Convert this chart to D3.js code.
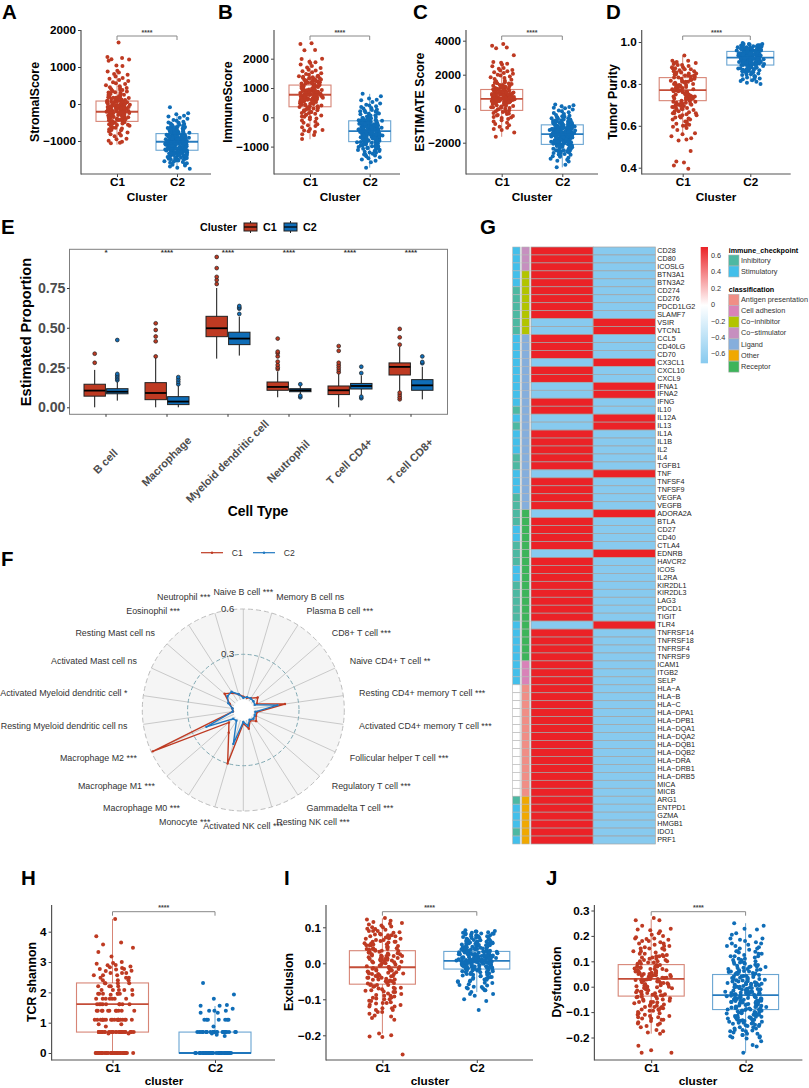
<!DOCTYPE html>
<html><head><meta charset="utf-8">
<script src="https://cdn.jsdelivr.net/npm/d3@7"></script>
<style>html,body{margin:0;padding:0;background:#fff}svg{display:block}text{font-family:"Liberation Sans",Arial,sans-serif}</style>
</head><body><svg id="c" width="809" height="1088"></svg>
<script>
const clusters=["C1","C2"];
const aC1=[1660,1270,1240,1210,1200,1170,1040,1030,900,880,850,810,790,740,700,680,650,620,590,560,540,510,480,450,430,420,400,380,350,340,320,310,300,280,270,250,240,220,200,190,170,160,140,130,110,100,90,70,60,50,40,20,10,-10,-20,-40,-50,-60,-80,-90,-100,-120,-130,-140,-160,-170,-190,-200,-210,-220,-240,-250,-270,-280,-300,-310,-330,-340,-360,-370,-390,-400,-420,-440,-450,-470,-490,-510,-530,-550,-570,-590,-610,-640,-660,-680,-710,-740,-770,-800,-820,-850,-870,-940,-950,-990,-1020,-1050,-1060,-130,-240,-90,-300,-180,-20,-410,-520,60,-350,170,-150,-260,-70];
const aC1More=[-300,-150,-60,40,120,-240,-350,-90,10,80,-420,-200,-10,210,-310,-130,-480,-560,150,-70,-280,-30,30,-190,-380,-110,300,-250,-640,-160,-460,90,-330,-50,180,-220,-590,-120,-20,-290,260,-430,-80,-700,-170,65,-370,380,-530,-100];
const aC2=[-90,-250,-280,-320,-340,-370,-400,-430,-450,-480,-500,-510,-530,-540,-560,-570,-590,-600,-620,-630,-650,-660,-680,-690,-700,-710,-730,-740,-750,-770,-780,-790,-800,-810,-820,-830,-840,-850,-860,-870,-880,-890,-900,-910,-920,-930,-940,-950,-960,-970,-975,-980,-990,-1000,-1005,-1010,-1020,-1025,-1030,-1040,-1045,-1050,-1060,-1065,-1070,-1080,-1090,-1095,-1100,-1110,-1120,-1125,-1130,-1140,-1150,-1155,-1160,-1170,-1180,-1190,-1200,-1205,-1210,-1220,-1230,-1240,-1250,-1260,-1270,-1280,-1290,-1300,-1310,-1320,-1335,-1350,-1360,-1375,-1390,-1400,-1415,-1430,-1440,-1455,-1470,-1480,-1500,-1510,-1530,-1550,-1570,-1590,-1620,-1640,-1660,-1690,-1720,-1750,-1000,-900,-1100,-850,-1150,-950,-1050,-760,-1200,-1300,-700,-1400,-800,-1250,-650];
const aC2More=[-1012,-1180,-880,-1340,-760,-1090,-950,-1230,-1420,-830,-1060,-1150,-690,-990,-1280,-910,-1120,-1510,-1030,-870,-1210,-1370,-790,-1080,-970,-1260,-920,-1140,-1600,-720,-1040,-1190,-860,-1310,-1070,-940,-1450,-810,-1110,-1000,-1220,-890,-640,-1160,-1350,-1020,-770,-1290,-930,-1480,-1100,-840,-1240,-980,-1560,-1130,-580,-1050,-1390,-900,-1200,-750,-1010,-1320,-860,-1170,-960,-1430,-1090,-820,-1270,-1030,-680,-1150,-1530,-910,-1060,-1340,-780,-1210,-990,-1120,-1460,-870,-1000,-1250,-720,-1080,-1380,-940,-1180,-800,-1300,-1040,-620,-1140,-1490,-960,-1230,-1070];
const bC1=[2530,2500,2300,2290,2000,1990,1900,1880,1850,1800,1750,1700,1680,1620,1600,1570,1540,1500,1480,1450,1420,1400,1370,1350,1330,1300,1280,1250,1230,1200,1180,1150,1130,1100,1080,1060,1040,1010,990,970,950,930,910,890,870,850,830,810,790,770,750,730,710,690,670,650,630,610,590,570,550,520,500,480,450,430,400,380,350,320,300,270,240,210,180,150,120,90,60,30,0,-40,-70,-110,-150,-190,-240,-270,-300,-340,-400,-430,-450,-480,-500,-580,-600,-740,800,900,700,1000,600,1100,760,500,1300,950,660,1220];
const bC1More=[900,650,1050,780,420,1180,560,860,320,1260,720,980,240,620,1340,830,480,1120,700,920,150,1400,540,1010,760,380,1210,640,880,90,1290,590,1060,740,460,1150,680,940,280,1380,510,820,1030,610,180,1240,790,430,960,670,1110,340,870,570,1170,730,20,1320,640,990];
const bC2=[800,720,640,600,580,520,470,430,400,380,350,320,300,270,250,220,200,170,150,120,100,70,50,30,10,-20,-40,-60,-80,-100,-120,-140,-160,-180,-200,-220,-240,-260,-280,-300,-315,-330,-345,-360,-375,-390,-405,-420,-435,-450,-465,-480,-495,-510,-525,-540,-555,-570,-585,-600,-615,-630,-645,-660,-680,-700,-720,-740,-760,-780,-800,-820,-840,-860,-880,-900,-920,-940,-960,-985,-1010,-1030,-1060,-1090,-1120,-1150,-1180,-1210,-1240,-1270,-1300,-1330,-1360,-1400,-1440,-1480,-1530,-1720,-450,-350,-550,-250,-650,-150,-750,-500,-300,-600,-50,-850,-400,-950,-700,-200,-1050,-420,-520,-620];
const bC2More=[-480,-330,-610,-210,-720,-90,-540,-390,-810,-270,-660,-450,-130,-910,-360,-580,-230,-760,-430,-30,-1010,-510,-310,-680,-170,-870,-400,-560,-110,-990,-290,-630,-460,-780,-190,-350,-1110,-530,-70,-710,-420,-260,-840,-590,-140,-950,-370,-490,-650,-230,-1070,-300,-570,-20,-800,-440,-160,-730,-520,-340,-1150,-610,-240,-890,-470,-100,-690,-380,-1000,-550,-200,-770,-410,130,-620,-310,-930,-500,60,-670,-270,-1200,-440,-590,-180,-830,-360,-740,-120,-530,-1280,-290,-640,-410,210,-980,-220,-560,-700,-340];
const cC1=[3800,3700,3600,3550,3150,2750,2700,2650,2600,2500,2400,2350,2280,2240,2200,2150,2100,2050,2000,1950,1900,1850,1800,1750,1700,1650,1600,1550,1500,1450,1400,1350,1300,1260,1220,1180,1140,1100,1060,1020,980,950,920,890,860,830,800,770,740,710,680,650,620,590,560,530,500,470,440,410,380,350,320,280,240,200,160,120,80,40,0,-50,-100,-150,-200,-250,-310,-370,-430,-490,-550,-610,-680,-750,-820,-900,-980,-1060,-1120,-1200,-1250,-1400,-1650,600,700,500,800,400,900,300,1000,650,450,750,550];
const cC1More=[720,480,880,320,1050,610,240,950,530,1180,420,760,130,1320,670,350,1120,570,820,60,1480,460,990,690,-30,1240,540,870,260,1620,380,1080,640,-170,920,510,1390,730,170,1010,440,-280,830,590,1530,290,1150,660,-400,780,490,1270,90,960,570,-520,1060,410,840,620];
const cC2=[250,200,150,100,60,20,-50,-100,-150,-210,-260,-310,-370,-420,-470,-520,-560,-600,-640,-680,-720,-760,-800,-830,-860,-890,-920,-950,-980,-1010,-1040,-1070,-1100,-1130,-1160,-1190,-1220,-1250,-1280,-1310,-1340,-1370,-1400,-1430,-1460,-1490,-1520,-1550,-1580,-1610,-1640,-1670,-1700,-1730,-1760,-1790,-1820,-1850,-1880,-1910,-1940,-1970,-2000,-2030,-2060,-2090,-2120,-2150,-2190,-2230,-2270,-2310,-2350,-2390,-2430,-2470,-2510,-2560,-2610,-2660,-2710,-2760,-2820,-2880,-2940,-3000,-3060,-3100,-3300,-3450,-1500,-1300,-1700,-1100,-1900,-900,-1450,-1200,-1600,-1000,-2100,-1350,-1750,-800,-2300,-1550,-1150,-1800,-2500,-1250,-1650,-700,-2000,-1050,-2200,-1420];
const cC2More=[-1520,-1280,-1710,-1050,-1890,-820,-1430,-1150,-1620,-960,-2050,-1330,-1780,-730,-2240,-1480,-1090,-1840,-2450,-1210,-1570,-640,-1950,-1010,-2150,-1390,-870,-1680,-2350,-1260,-1530,-1120,-1990,-780,-2600,-1440,-1190,-1730,-930,-2090,-1360,-1590,-560,-1860,-1070,-2270,-1470,-1240,-1660,-2700,-840,-1410,-1930,-1130,-2030,-1310,-1560,-490,-1810,-990,-2390,-1510,-1170,-1720,-900,-2130,-1380,-1630,-2520,-1030,-1460,-1900,-1220,-750,-1770,-2200,-1340,-1540,-1080,-2800,-1680,-1260,-1980,-440,-1420,-1140,-1820,-2320,-960,-1580,-1290,-2060,-1500,-680,-1700,-2440,-1200,-1370,-1930,-1060];
const dC1=[.935,.91,.91,.905,.9,.895,.89,.885,.88,.875,.87,.865,.86,.855,.85,.845,.84,.835,.83,.825,.82,.815,.81,.805,.8,.795,.79,.785,.78,.775,.77,.765,.76,.755,.75,.745,.74,.735,.73,.725,.72,.715,.71,.705,.7,.695,.69,.685,.68,.675,.67,.665,.66,.655,.65,.645,.64,.635,.63,.62,.61,.605,.6,.595,.59,.58,.565,.56,.55,.54,.535,.53,.48,.43,.425,.41,.395,.77,.74,.8,.76,.72,.78,.83,.75,.7,.82,.79,.73,.87,.68,.85,.77,.71,.81,.9,.76,.66,.84,.75,.69];
const dC1More=[.76,.79,.73,.81,.69,.84,.71,.77,.87,.67,.75,.8,.72,.89,.74,.78,.65,.82,.7,.86,.755,.785,.63,.815,.725,.88,.745,.66,.795,.68,.835,.775,.62,.855,.735,.805,.715,.61,.765,.825,.695,.875,.75,.6,.79,.705,.845,.77,.64,.73];
const dC2=[.995,.99,.988,.985,.983,.98,.978,.975,.973,.97,.968,.965,.963,.96,.958,.955,.953,.95,.948,.945,.943,.94,.938,.935,.933,.93,.928,.925,.923,.92,.918,.915,.913,.91,.908,.905,.903,.9,.898,.895,.893,.89,.888,.885,.883,.88,.877,.874,.871,.868,.865,.862,.859,.856,.853,.85,.846,.842,.838,.834,.83,.826,.822,.818,.814,.81,.805,.8,.97,.96,.95,.94,.93,.92,.91,.9,.965,.955,.945,.935,.925,.915,.905,.98,.975,.96,.94,.93,.92,.95,.885,.87,.985,.99,.91,.93,.945,.955,.9,.89,.97,.86];
const dC2More=[.93,.95,.91,.97,.9,.94,.92,.96,.88,.985,.925,.945,.905,.975,.935,.895,.955,.915,.965,.875,.94,.92,.98,.91,.95,.865,.93,.96,.9,.99,.925,.885,.945,.97,.915,.855,.935,.955,.905,.975,.92,.895,.94,.845,.965,.91,.93,.985,.88,.95,.9,.925,.96,.87,.935,.915,.945,.835,.97,.905,.94,.92,.955,.89,.98,.93,.91,.825,.95,.9,.965,.925,.875,.94,.915,.96,.935,.86,.945,.905];
const hC1=[4.42,3.85,3.64,3.58,3.47,3.33,3.18,3,2.97,2.94,2.9,2.89,2.85,2.83,2.8,2.77,2.75,2.71,2.7,2.64,2.64,2.56,2.56,2.48,2.48,2.4,2.4,2.3,2.3,2.3,2.2,2.2,2.2,2.08,2.08,2.08,1.95,1.95,1.95,1.95,1.92,1.92,1.79,1.79,1.79,1.79,1.79,1.61,1.61,1.61,1.61,1.61,1.61,1.39,1.39,1.39,1.39,1.39,1.39,1.39,1.39,1.1,1.1,1.1,1.1,1.1,1.1,1.1,1.1,1.1,1.1,1.1,1.1,1.1,1.1,.95,.95,.87,.69,.69,.69,.69,.69,.69,.69,.69,.69,.69,.69,.69,.69,.69,.69,.69,.69,.69,.69,.69,.69,.69,.69,.69,.64,.64,0,0,0,0,0,0,0,0,0,0,0,0,0,0,0,0,0,0,0,0,0,0,0,0,0,0,0,0,0,0];
const hC1More=[1.1,.69,1.39,0,1.61,1.79,.69,0,1.1,1.95,2.08,.69,0,1.39,2.2,1.61,1.1,2.3,2.48,.69,1.79,2.64,0,1.39,1.1,1.95,2.4,0,2.77,1.61,.69,2.08,2.56,1.1,0];
const hC2=[2.31,1.93,1.79,1.58,1.56,1.56,1.46,1.39,1.39,1.39,1.33,1.33,1.1,1.1,1.1,1.1,1.1,1.1,1.1,.87,.69,.69,.69,.69,.69,.69,.69,.69,.69,.69,.69,.69,.69,.69,.69,.69,.69,.69,.69,.69,.69,.69,.69,.69,.64,.6,.56,0,0,0,0,0,0,0,0,0,0,0,0,0,0,0,0,0,0,0,0,0,0,0,0,0,0,0,0,0,0,0,0,0,0,0,0,0,0,0,0,0,0,0];
const iC1=[.126,.122,.118,.115,.112,.108,.105,.102,.1,.096,.093,.09,.086,.082,.078,.075,.072,.068,.065,.062,.06,.056,.053,.05,.048,.045,.042,.04,.037,.034,.032,.03,.027,.024,.022,.02,.017,.014,.012,.01,.007,.004,.002,0,-.003,-.006,-.008,-.01,-.013,-.016,-.018,-.02,-.023,-.026,-.028,-.03,-.033,-.036,-.04,-.043,-.046,-.05,-.053,-.056,-.06,-.064,-.068,-.072,-.076,-.08,-.084,-.088,-.092,-.096,-.1,-.104,-.108,-.112,-.116,-.12,-.125,-.13,-.135,-.14,-.148,-.152,-.157,-.195,-.2,-.203,-.205,-.253,.04,.01,-.02,.03,-.05,.05,-.01,.02,-.03,.07,-.07,.015,-.04,.09,-.09,.045,-.015,.06,-.06,-.11,.025,-.035,.08,-.025,.005,.035,-.045];
const iC1More=[-.02,.03,-.05,.06,-.08,.01,-.03,.05,-.1,.02,-.06,.08,-.12,.04,-.01,.09,-.07,0,-.04,.07,-.13,.025,-.09,.055,-.015,-.11,.035,-.055,.1,.015,-.075,.045,-.035,.075,-.145,.005,-.095,.065,-.025,.11,-.065,.028,-.045,.085,-.115,.012,-.085,.052,-.005,-.125,.038,-.018,.095,-.068,.022,-.105,.058,-.038,.003,-.078,.068,-.048,.018,-.135,.042,-.028,.078,-.058,.008,-.098];
const iC2=[.092,.09,.088,.086,.085,.083,.082,.08,.078,.075,.073,.07,.068,.066,.064,.062,.06,.058,.056,.054,.052,.05,.048,.046,.044,.042,.04,.038,.036,.034,.032,.03,.029,.028,.026,.025,.024,.022,.021,.02,.018,.017,.016,.015,.014,.013,.012,.011,.01,.009,.008,.007,.006,.005,.004,.003,.002,.001,0,-.001,-.002,-.003,-.004,-.005,-.006,-.008,-.01,-.012,-.014,-.016,-.018,-.02,-.022,-.024,-.026,-.028,-.03,-.032,-.034,-.036,-.038,-.04,-.043,-.046,-.05,-.054,-.058,-.062,-.066,-.07,-.075,-.08,-.085,-.09,-.1,-.105,-.13,.01,.02,.005,.015,.03,0,.025,-.005,.035,.012,-.01,.04,.008,.018,-.015,.05,.003,.022,.045,-.02,.028,.006,.055,-.025,.016];
const iC2More=[.01,.03,-.01,.05,-.02,.02,.07,0,.04,-.03,.015,.06,-.005,.035,.08,-.015,.025,-.04,.055,.005,.045,-.025,.012,.075,-.008,.032,-.05,.018,.065,.002,.042,-.035,.022,.085,-.012,.052,-.06,.008,.038,-.022,.072,.014,-.045,.028,.058,-.004,.048,-.07,.019,.082,-.018,.034,.004,.062,-.03,.024,-.055,.044,.011,.078,-.009,.031,-.075,.054,.016,-.028,.068,.001,.041,-.038,.026,.088,-.013,.006,.049,-.048,.021,.059,-.002,.036,-.065,.013,.074,-.024,.046,.009,-.085,.029,.066,-.007,.039,-.042,.017,.056,.003,-.016,.083,.023,-.052,.043,.007,.063,-.032,.033,-.011,.076,.019,-.068,.051,-.001];
const jC1=[.27,.262,.262,.24,.228,.225,.222,.218,.205,.195,.19,.188,.185,.18,.175,.17,.165,.16,.155,.15,.145,.14,.135,.13,.125,.12,.115,.11,.105,.1,.095,.09,.085,.08,.075,.07,.066,.062,.058,.054,.05,.046,.042,.038,.034,.03,.026,.022,.018,.014,.01,.006,.002,-.002,-.006,-.01,-.014,-.018,-.022,-.026,-.03,-.034,-.038,-.042,-.046,-.05,-.055,-.06,-.065,-.07,-.075,-.08,-.085,-.09,-.095,-.1,-.105,-.11,-.115,-.12,-.125,-.13,-.135,-.14,-.145,-.16,-.175,-.18,-.185,-.232,-.25,-.26,-.26,.04,.02,.06,.03,.05,.01,.08,-.02,.1,0,.035,.07,-.04,.12,.045,.025,.015,-.06,.055,.15,-.08];
const jC1More=[.05,-.03,.09,-.07,.12,.01,-.11,.07,-.02,.15,.03,-.05,.19,-.09,.04,-.01,.11,-.13,.06,.02,-.04,.17,-.08,.08,-.15,.13,0,-.06,.1,-.12,.055,.025,-.035,.14,-.095,.075,-.17,.005,.16,-.055,.045,-.085,.115,-.015,.21,-.125,.065,-.025,.035,-.105,.095,-.045,.18,-.075,.015,-.145,.085,-.005,.125,-.115,.052,-.062,.028,.2,-.032,.072,-.092,.042,-.155,.105];
const jC2=[.25,.24,.228,.225,.205,.2,.19,.185,.18,.175,.17,.165,.16,.15,.145,.14,.138,.135,.13,.125,.12,.115,.11,.105,.1,.097,.094,.09,.086,.082,.078,.074,.07,.066,.062,.058,.054,.05,.046,.042,.038,.034,.03,.027,.024,.021,.018,.015,.012,.009,.006,.003,0,-.003,-.006,-.009,-.012,-.015,-.018,-.021,-.024,-.027,-.03,-.033,-.036,-.039,-.042,-.045,-.048,-.051,-.054,-.057,-.06,-.063,-.066,-.07,-.074,-.078,-.082,-.086,-.09,-.094,-.098,-.102,-.106,-.11,-.114,-.118,-.122,-.126,-.13,-.134,-.138,-.142,-.146,-.15,-.155,-.16,-.165,-.17,-.175,-.18,-.185,-.19,-.195,-.2,-.204,-.235,-.26,-.02,-.04,0,-.06,.02,-.03,-.05,.01,-.08,.04,-.01,-.07,.06,-.09,-.045,.03,-.025,-.12,.08,-.055,-.1,.015];
const jC2More=[-.03,.01,-.07,.05,-.11,-.05,.03,-.09,.08,-.13,-.01,-.06,.06,-.15,-.04,.02,-.1,.11,-.02,-.17,-.08,.04,-.12,.13,-.035,-.19,-.065,.07,-.14,0,-.095,.09,-.025,-.16,.15,-.055,.035,-.115,-.005,-.185,.12,-.075,.055,-.135,-.045,.015,-.105,.17,-.085,-.015,-.155,.075,-.125,.045,-.035,-.2,.095,-.062,.025,-.145,-.052,.14,-.092,.005,-.175,-.028,.065,-.112,-.072,.19,-.042,-.132,.085,-.008,-.165,-.058,.035,-.102,.12,-.082,-.018,-.195,.052,-.122,-.048,.105,-.068,.012,-.152,-.038,.078,-.098,.155,-.011,-.128,-.078,.042,-.215,-.056,.022,-.108,.16,-.032,-.142,.068,-.088,-.002,-.23,.098,-.118,-.062,.03,-.172,-.044,.21,-.084,.058,-.022,-.138,.008];

const statsA=[[-1100,-470,-210,80,880],[-1750,-1250,-1020,-800,-250]];
const statsB=[[-750,360,770,1100,2000],[-1720,-830,-470,-120,800]];
const statsC=[[-1650,-100,580,1130,2700],[-3450,-2100,-1500,-950,250]];
const statsD=[[.56,.72,.77,.83,.935],[.81,.89,.925,.955,.995]];
const statsH=[[0,.69,1.61,2.31,4.42],[0,0,0,.69,1.55]];
const statsI=[[-.195,-.058,-.011,.035,.125],[-.08,-.016,.007,.033,.09]];
const statsJ=[[-.185,-.037,.031,.087,.265],[-.26,-.09,-.033,.048,.25]];

const jitterLanes=[.12,-.83,.47,-.31,.95,-.62,.03,.71,-.14,-.97,.36,-.48,.84,-.22,.58,-.75,.21,.99,-.39,-.05,.66,-.9,.29,-.56,.78,.08,-.68,.42,-.27,.9,-.11,-.8,.53,.17,-.44,.74,-.6];

const cellTypes=["B cell","Macrophage","Myeloid dendritic cell","Neutrophil","T cell CD4+","T cell CD8+"];
const cellStars=["*","****","****","****","****","****"];
const eC1=[[0,.07,.105,.145,.235],[0,.048,.09,.155,.31],[.306,.444,.497,.572,.75],[.063,.107,.128,.159,.225],[0,.08,.107,.134,.21],[.1,.203,.254,.279,.38]];
const eC2=[[.042,.085,.098,.117,.16],[0,.017,.036,.067,.135],[.325,.394,.432,.472,.57],[.078,.098,.107,.117,.135],[.078,.115,.134,.15,.2],[.05,.107,.138,.174,.255]];
const eC1Out=[[.28,.337],[.32,.415,.445,.486,.528],[.775,.8,.82,.875,.945],[.24,.25,.266,.287,.32,.34,.35,.432],[.22,.235,.25,.265,.28,.355,.385],[.05,.063,.078,.092,.394,.44,.493]];
const eC2Out=[[.17,.18,.19,.2,.21,.423],[.145,.16,.175,.19],[.587,.62,.627,.637],[.063,.073,.145],[.057,.067,.215,.255],[.277,.285,.32]];
const eTicks=[0,.25,.5,.75];

const immune=["Naive B cell ***","Memory B cell ns","Plasma B cell ***","CD8+ T cell ***","Naive CD4+ T cell **","Resting CD4+ memory T cell ***","Activated CD4+ memory T cell ***","Follicular helper T cell ***","Regulatory T cell ***","Gammadelta T cell ***","Resting NK cell ***","Activated NK cell ***","Monocyte ***","Macrophage M0 ***","Macrophage M1 ***","Macrophage M2 ***","Resting Myeloid dendritic cell ns","Activated Myeloid dendritic cell *","Activated Mast cell ns","Resting Mast cell ns","Eosinophil ***","Neutrophil ***"];
const radarC1=[.02,.015,.025,.057,.03,.21,.024,.024,.044,.015,.06,.02,.30,.11,.057,.59,0,.005,.03,.095,.065,.04];
const radarC2=[.012,.02,.022,.02,.015,.16,.012,.015,.02,.008,.04,.01,.165,.015,.02,.2,.002,.003,.04,.07,.075,.04];

const genes=["CD28","CD80","ICOSLG","BTN3A1","BTN3A2","CD274","CD276","PDCD1LG2","SLAMF7","VSIR","VTCN1","CCL5","CD40LG","CD70","CX3CL1","CXCL10","CXCL9","IFNA1","IFNA2","IFNG","IL10","IL12A","IL13","IL1A","IL1B","IL2","IL4","TGFB1","TNF","TNFSF4","TNFSF9","VEGFA","VEGFB","ADORA2A","BTLA","CD27","CD40","CTLA4","EDNRB","HAVCR2","ICOS","IL2RA","KIR2DL1","KIR2DL3","LAG3","PDCD1","TIGIT","TLR4","TNFRSF14","TNFRSF18","TNFRSF4","TNFRSF9","ICAM1","ITGB2","SELP","HLA-A","HLA-B","HLA-C","HLA-DPA1","HLA-DPB1","HLA-DQA1","HLA-DQA2","HLA-DQB1","HLA-DQB2","HLA-DRA","HLA-DRB1","HLA-DRB5","MICA","MICB","ARG1","ENTPD1","GZMA","HMGB1","IDO1","PRF1"];
const lowInC1=["VSIR","VTCN1","CX3CL1","IFNA1","IFNA2","IL12A","IL13","TNF","ADORA2A","EDNRB","TLR4"];
const inhibitory=["CD274","CD276","PDCD1LG2","SLAMF7","VSIR","VTCN1","IL10","IL13","IL4","TGFB1","VEGFA","VEGFB","ADORA2A","BTLA","CTLA4","EDNRB","HAVCR2","KIR2DL1","KIR2DL3","LAG3","PDCD1","TIGIT","ARG1","IDO1"];
const noCheckpoint=["HLA-A","HLA-B","HLA-C","HLA-DPA1","HLA-DPB1","HLA-DQA1","HLA-DQA2","HLA-DQB1","HLA-DQB2","HLA-DRA","HLA-DRB1","HLA-DRB5","MICA","MICB"];
const classNames=["Antigen presentation","Cell adhesion","Co-inhibitor","Co-stimulator","Ligand","Other","Receptor"];
const classCounts=[["Co-stimulator",3],["Co-inhibitor",8],["Ligand",22],["Receptor",19],["Cell adhesion",3],["Antigen presentation",14],["Other",6]];
const classColors=["#F08E86","#D982B8","#B2C400","#C68FBF","#85AEDC","#F0A800","#3DB45A"];
const checkColors=["#4DB8A2","#43BFEA"];
const barTicks=[.6,.4,.2,0,-.2,-.4,-.6];

const RED="#BE3A22",BLUE="#0F6DB7",PALE=[RED,BLUE];
const svg=d3.select("#c");
function txt(g,x,y,s,o={}){const t=g.append("text").attr("x",x).attr("y",y).text(s)
 .attr("font-size",o.size||10).attr("font-weight",o.bold?"bold":"normal").attr("fill",o.fill||"#000")
 .attr("text-anchor",o.anchor||"start").attr("dominant-baseline",o.base||"auto");
 if(o.rot!=null)t.attr("transform",`rotate(${o.rot} ${x} ${y})`);return t;}
function letter(s,x,y){txt(svg,x,y,s,{size:20.5,bold:true});}
const L=jitterLanes,nL=L.length;

function scatterPanel(p){
 const g=svg.append("g");
 const base=d3.scaleLinear().domain(p.ref.slice(0,2)).range(p.ref.slice(2,4));
 const y=d3.scaleLinear().domain([base.invert(p.bottom),base.invert(p.top)]).range([p.bottom,p.top]);
 const x=d3.scalePoint().domain(clusters).range([p.c1,p.c2]);
 p.data.forEach((vals,k)=>{
  g.append("g").selectAll("circle").data(vals).join("circle")
   .attr("cx",(d,i)=>x(clusters[k])+(.82*L[(i+k*11)%nL]+.18*L[(i*3+k)%29])*p.jit)
   .attr("cy",d=>y(d)).attr("r",p.r||2).attr("fill",PALE[k]);
 });
 p.stats.forEach((s,k)=>{
  const cx=x(clusters[k]),w=p.bw/2,b=g.append("g").attr("stroke",PALE[k]).attr("fill","none").attr("stroke-opacity",.62);
  b.append("line").attr("x1",cx).attr("x2",cx).attr("y1",y(s[0])).attr("y2",y(s[1])).attr("stroke-width",1);
  b.append("line").attr("x1",cx).attr("x2",cx).attr("y1",y(s[3])).attr("y2",y(s[4])).attr("stroke-width",1);
  b.append("rect").attr("x",cx-w).attr("width",p.bw).attr("y",y(s[3])).attr("height",y(s[1])-y(s[3])).attr("stroke-width",1.1);
  b.append("line").attr("x1",cx-w).attr("x2",cx+w).attr("y1",y(s[2])).attr("y2",y(s[2])).attr("stroke-width",1.8).attr("stroke-opacity",.9);
 });
 const ay=g.append("g").attr("transform",`translate(${p.x0},0)`).call(d3.axisLeft(y).tickValues(p.ticks).tickFormat(d3.format(p.fmt)).tickSize(3).tickSizeOuter(0));
 const ax=g.append("g").attr("transform",`translate(0,${p.bottom})`).call(d3.axisBottom(x).tickSize(3).tickSizeOuter(0));
 [ay,ax].forEach(a=>{a.selectAll("path").remove();a.selectAll("line").attr("stroke","#444").attr("stroke-width",1);
  a.selectAll("text").attr("font-size",p.tick||11.7).attr("font-weight","bold").attr("fill","#000").attr("font-family",'"Liberation Sans",Arial,sans-serif');});
 ay.selectAll("text").attr("x",-5);ax.selectAll("text").attr("y",4);
 g.append("line").attr("x1",p.x0).attr("x2",p.x0).attr("y1",p.top).attr("y2",p.bottom+.6).attr("stroke","#555").attr("stroke-width",1.2);
 g.append("line").attr("x1",p.x0).attr("x2",p.x1).attr("y1",p.bottom).attr("y2",p.bottom).attr("stroke","#555").attr("stroke-width",1.2);
 const bt=p.bracket;
 g.append("path").attr("d",`M${p.c1},${bt+4}V${bt}H${p.c2}V${bt+4}`).attr("fill","none").attr("stroke","#888").attr("stroke-width",1);
 txt(g,(p.c1+p.c2)/2,bt-1.5,"****",{size:7,bold:true,anchor:"middle",fill:"#444"});
 txt(g,p.xlx,p.xly,p.xlab,{size:11.8,bold:true,anchor:"middle"});
 txt(g,p.ylx,p.yly,p.ylab,{size:12.3,bold:true,anchor:"middle",rot:-90});
}
const commonTop={top:30,bottom:174,bracket:36,xly:201,yly:102,xlab:"Cluster"};
scatterPanel({...commonTop,data:[aC1.concat(aC1More),aC2.concat(aC2More)],stats:statsA,ref:[0,1000,104,67],ticks:[-1000,0,1000,2000],fmt:"d",x0:81,x1:211,c1:117,c2:177,bw:42,jit:13,ylab:"StromalScore",ylx:39,xlx:147});
scatterPanel({...commonTop,data:[bC1.concat(bC1More),bC2.concat(bC2More)],stats:statsB,ref:[0,1000,117.3,88],ticks:[-1000,0,1000,2000],fmt:"d",x0:274,x1:400,c1:310,c2:369.7,bw:42,jit:13,ylab:"ImmuneScore",ylx:232,xlx:340});
scatterPanel({...commonTop,data:[cC1.concat(cC1More),cC2.concat(cC2More)],stats:statsC,ref:[0,2000,108.7,74.7],ticks:[-2000,0,2000,4000],fmt:"d",x0:466,x1:598,c1:501.7,c2:562.3,bw:42,jit:13,ylab:"ESTIMATE Score",ylx:424,xlx:532});
scatterPanel({...commonTop,data:[dC1.concat(dC1More),dC2.concat(dC2More)],stats:statsD,ref:[1,.4,42,167.7],ticks:[.4,.6,.8,1],fmt:".1f",x0:641.7,x1:790.7,c1:682.7,c2:750.3,bw:47,jit:14,ylab:"Tumor Purity",ylx:617,xlx:716});
const commonBot={top:905,bottom:1060,bracket:911.7,xly:1085,yly:982,xlab:"cluster",jit:21};
scatterPanel({...commonBot,data:[hC1.concat(hC1More),hC2],stats:statsH,ref:[0,4,1053,931.7],ticks:[0,1,2,3,4],fmt:"d",x0:51.6,x1:275,c1:112.5,c2:215,bw:72,jit:22,ylab:"TCR shannon",ylx:36,xlx:164});
scatterPanel({...commonBot,data:[iC1.concat(iC1More),iC2.concat(iC2More)],stats:statsI,ref:[0,.1,963.3,927.3],ticks:[-.2,-.1,0,.1],fmt:".1f",x0:326,x1:533,c1:382.4,c2:476.8,bw:66,ylab:"Exclusion",ylx:293,xlx:430});
scatterPanel({...commonBot,data:[jC1.concat(jC1More),jC2.concat(jC2More)],stats:statsJ,ref:[0,.1,986.7,961.3],ticks:[-.2,-.1,0,.1,.2,.3],fmt:".1f",x0:594.4,x1:802.4,c1:651.2,c2:745.6,bw:66,ylab:"Dysfunction",ylx:561,xlx:698});

(function(){
 const g=svg.append("g"),L=69.5,R=447.5,T=249.3,B=414.3;
 const y=d3.scaleLinear().domain([0,.75]).range([407.3,288]);
 const x=d3.scaleBand().domain(cellTypes).range([75.5,441.5]);
 const dodge=d3.scaleBand().domain(clusters).range([-22.6,22.6]);
 [[eC1,eC1Out,RED],[eC2,eC2Out,BLUE]].forEach(([st,out,col],k)=>{
  st.forEach((s,i)=>{
   const cx=x(cellTypes[i])+x.bandwidth()/2+dodge(clusters[k])+dodge.bandwidth()/2,w=10.7,b=g.append("g");
   b.append("line").attr("x1",cx).attr("x2",cx).attr("y1",y(s[0])).attr("y2",y(s[4])).attr("stroke","#111");
   b.append("rect").attr("x",cx-w).attr("width",2*w).attr("y",y(s[3])).attr("height",y(s[1])-y(s[3])).attr("fill",col).attr("stroke","#222").attr("stroke-width",1);
   b.append("line").attr("x1",cx-w).attr("x2",cx+w).attr("y1",y(s[2])).attr("y2",y(s[2])).attr("stroke","#000").attr("stroke-width",1.8);
   b.selectAll("circle").data(out[i]).join("circle").attr("cx",cx).attr("cy",d=>y(d)).attr("r",1.9).attr("fill",col).attr("stroke","#222").attr("stroke-width",.7);
  });
 });
 g.append("rect").attr("x",L).attr("y",T).attr("width",R-L).attr("height",B-T).attr("fill","none").attr("stroke","#7f7f7f").attr("stroke-width",1);
 const ay=g.append("g").attr("transform",`translate(${L},0)`).call(d3.axisLeft(y).tickValues(eTicks).tickFormat(d3.format(".2f")).tickSize(2.5));
 const ax=g.append("g").attr("transform",`translate(0,${B})`).call(d3.axisBottom(x).tickSize(2.5).tickFormat(""));
 [ay,ax].forEach(a=>{a.selectAll("path").remove();a.selectAll("line").attr("stroke","#333");});
 ay.selectAll("text").attr("font-size",14.2).attr("font-weight","bold").attr("fill","#4d4d4d").attr("font-family",'"Liberation Sans",Arial,sans-serif').attr("x",-4);
 cellTypes.forEach((c,i)=>{const cx=x(c)+x.bandwidth()/2;
  txt(g,cx,462,c,{size:11,bold:true,fill:"#4d4d4d",anchor:"middle",base:"middle",rot:-45});
  txt(g,cx,254.5,cellStars[i],{size:8,bold:true,anchor:"middle",fill:"#333"});});
 txt(g,27,332,"Estimated Proportion",{size:14.6,bold:true,anchor:"middle",base:"middle",rot:-90});
 txt(g,258,516,"Cell Type",{size:13.9,bold:true,anchor:"middle"});
 txt(g,200,231,"Cluster",{size:10.7,bold:true});
 [[244,RED,"C1",263],[284,BLUE,"C2",303]].forEach(([kx,col,lab,tx])=>{
  g.append("line").attr("x1",kx+6.5).attr("x2",kx+6.5).attr("y1",221).attr("y2",233).attr("stroke","#222");
  g.append("rect").attr("x",kx).attr("y",223).attr("width",13).attr("height",8).attr("fill",col).attr("stroke","#222");
  g.append("line").attr("x1",kx).attr("x2",kx+13).attr("y1",227).attr("y2",227).attr("stroke","#000").attr("stroke-width",1.2);
  txt(g,tx,231,lab,{size:10.7,bold:true});});
})();

(function(){
 const g=svg.append("g").attr("transform","translate(243.3,710)");
 const r=d3.scaleLinear().domain([0,.6]).range([10.4,101]);
 const ang=d3.scalePoint().domain(immune).range([0,2*Math.PI*21/22]);
 g.append("circle").attr("r",101).attr("fill","#f5f5f5");
 immune.forEach(n=>{const a=ang(n),s=Math.sin(a),c=-Math.cos(a);
  g.append("line").attr("x1",r(0)*s).attr("y1",r(0)*c).attr("x2",101*s).attr("y2",101*c).attr("stroke","#c9c9c9").attr("stroke-width",1);
  const lx=117*s,ly=117*c,an=Math.abs(s)<.01?"middle":(s>0?"start":"end");
  txt(g,lx,ly,n,{size:8.9,anchor:an,base:"middle",fill:"#333"});});
 g.append("circle").attr("r",r(0)).attr("fill","#fff");
 g.append("circle").attr("r",101).attr("fill","none").attr("stroke","#bdbdbd").attr("stroke-dasharray","5 3");
 g.append("circle").attr("r",r(.3)).attr("fill","none").attr("stroke","#7FA8B2").attr("stroke-dasharray","4 2.5");
 [[.6],[.3]].forEach(([v])=>txt(g,-9,-r(v),d3.format(".1f")(v),{size:9.5,anchor:"end",base:"middle",fill:"#333"}));
 const line=d3.lineRadial().angle((d,i)=>ang(immune[i])).radius(d=>r(d)).curve(d3.curveLinearClosed);
 [[radarC1,RED],[radarC2,"#1F78C1"]].forEach(([vals,col])=>{
  g.append("path").attr("d",line(vals)).attr("fill","none").attr("stroke",col).attr("stroke-width",1.4);
  g.append("g").selectAll("circle").data(vals).join("circle").attr("r",1.2).attr("fill",col)
   .attr("cx",(d,i)=>r(d)*Math.sin(ang(immune[i]))).attr("cy",(d,i)=>-r(d)*Math.cos(ang(immune[i])));
 });
 [[201,RED,"C1",231.7],[253,"#1F78C1","C2",283.7]].forEach(([lx,col,lab,tx])=>{
  svg.append("line").attr("x1",lx).attr("x2",lx+22).attr("y1",552.7).attr("y2",552.7).attr("stroke",col).attr("stroke-width",1.2);
  svg.append("circle").attr("cx",lx+11).attr("cy",552.7).attr("r",1.2).attr("fill",col);
  txt(svg,tx,556,lab,{size:8.6,fill:"#333"});});
})();

(function(){
 const g=svg.append("g");
 const rows=d3.scaleBand().domain(genes).range([247,844]);
 const cols=d3.scaleBand().domain(clusters).range([531,655.3]);
 const color=d3.scaleLinear().domain([-.707,0,.707]).range(["#87CAEF","#ffffff","#EB2227"]);
 const value=(gene,col)=>{const low=lowInC1.includes(gene);return (col==="C1")===low?-.707:.707;};
 clusters.forEach(c=>g.append("g").selectAll("rect").data(genes).join("rect")
  .attr("x",cols(c)).attr("width",cols.bandwidth()).attr("y",d=>rows(d)).attr("height",rows.bandwidth())
  .attr("fill",d=>color(value(d,c))).attr("stroke","#a3a3a3").attr("stroke-width",.7));
 const classOf=[];classCounts.forEach(([n,c])=>{for(let i=0;i<c;i++)classOf.push(n);});
 const classScale=d3.scaleOrdinal().domain(classNames).range(classColors);
 const stroke=s=>s.attr("height",rows.bandwidth()).attr("stroke","#b5b5b5").attr("stroke-width",.6);
 g.append("g").selectAll("rect").data(genes).join("rect").attr("x",512.7).attr("width",7.4).attr("y",d=>rows(d))
  .attr("fill",d=>noCheckpoint.includes(d)?"#fff":inhibitory.includes(d)?checkColors[0]:checkColors[1]).call(stroke);
 g.append("g").selectAll("rect").data(genes).join("rect").attr("x",521.8).attr("width",7.5).attr("y",d=>rows(d))
  .attr("fill",(d,i)=>classScale(classOf[i])).call(stroke);
 genes.forEach(n=>txt(g,657.3,rows(n)+rows.bandwidth()/2+.3,n.replace("-","\u2212"),{size:7.2,base:"middle",fill:"#222"}));
 const barY=d3.scaleLinear().domain([.707,-.707]).range([247,363.3]);
 const defs=svg.append("defs").append("linearGradient").attr("id","cb").attr("x1",0).attr("x2",0).attr("y1",0).attr("y2",1);
 [.707,0,-.707].forEach((v,i)=>defs.append("stop").attr("offset",i/2).attr("stop-color",color(v)));
 g.append("rect").attr("x",700.7).attr("y",247).attr("width",7.3).attr("height",116.3).attr("fill","url(#cb)");
 barTicks.forEach(v=>txt(g,711,barY(v),d3.format(".1~f")(v),{size:7.3,base:"middle",fill:"#333"}));
 txt(g,728.7,252.5,"immune_checkpoint",{size:7.2,bold:true});
 const key=(y,col,lab)=>{g.append("rect").attr("x",728.7).attr("y",y).attr("width",10.3).attr("height",11).attr("fill",col).attr("stroke","#b5b5b5").attr("stroke-width",.6);
  txt(g,741,y+5.8,lab.replace("-","\u2212"),{size:7.3,base:"middle",fill:"#333"});};
 ["Inhibitory","Stimulatory"].forEach((l,i)=>key(255+i*11,checkColors[i],l));
 txt(g,728.7,291.5,"classification",{size:7.2,bold:true});
 classNames.forEach((l,i)=>key(294.3+i*11.14,classColors[i],l));
})();

letter("A",2,19);letter("B",218,19);letter("C",413,19);letter("D",606,19);
letter("E",1,234);letter("F",1,566);letter("G",480,234);
letter("H",21,885);letter("I",284,885);letter("J",546,885);
</script></body></html>
